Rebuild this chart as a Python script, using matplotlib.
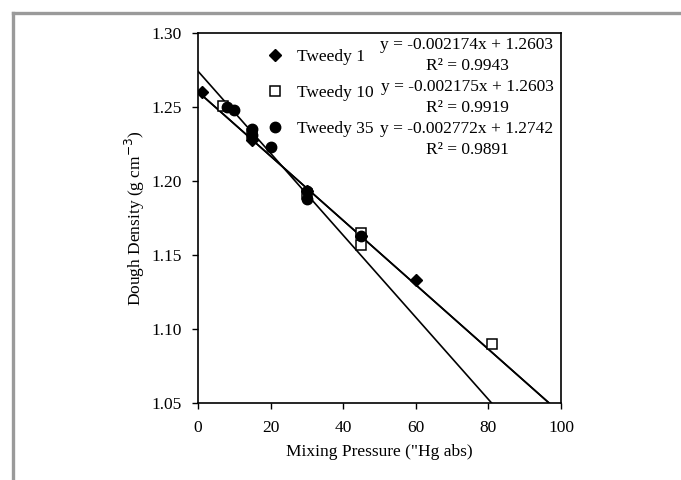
import matplotlib
matplotlib.use("Agg")
import matplotlib.pyplot as plt
from matplotlib.lines import Line2D
import numpy as np

# ---- data ----
t1_x = [1, 15, 30, 45, 60]
t1_y = [1.260, 1.228, 1.193, 1.163, 1.133]

t10_x = [7, 15, 30, 45, 45, 81]
t10_y = [1.251, 1.232, 1.191, 1.165, 1.157, 1.090]

t35_x = [8, 10, 15, 15, 20, 30, 30, 45]
t35_y = [1.250, 1.248, 1.235, 1.231, 1.223, 1.193, 1.188, 1.163]

series_names = ["Tweedy 1", "Tweedy 10", "Tweedy 35"]
slopes = [-0.002174, -0.002175, -0.002772]
intercepts = [1.2603, 1.2603, 1.2742]
r2_values = [0.9943, 0.9919, 0.9891]

x_ticks = [0, 20, 40, 60, 80, 100]
y_ticks = [1.05, 1.10, 1.15, 1.20, 1.25, 1.30]

W, H = 681, 480
FS = 12.5
plt.rcParams['font.family'] = ['Liberation Serif', 'DejaVu Serif']
plt.rcParams['font.size'] = FS

fig = plt.figure(figsize=(W / 100, H / 100), dpi=100)
ax = fig.add_axes([198 / W, 1 - 403 / H, (561 - 198) / W, (403 - 33) / H])

def fy(py):
    return 1 - py / H

def fx(px):
    return px / W

# gray frame (top and left)
fig.add_artist(Line2D([fx(13), 1.0], [fy(13), fy(13)], color='#9a9a9a', lw=2.4,
                      transform=fig.transFigure))
fig.add_artist(Line2D([fx(13), fx(13)], [fy(13), 0.0], color='#9a9a9a', lw=2.4,
                      transform=fig.transFigure))

# trend lines
xl = np.array([0.0, 100.0])
for m, b in zip(slopes, intercepts):
    ax.plot(xl, m * xl + b, color='black', lw=1.2, zorder=2)

# markers
ax.plot(t1_x, t1_y, linestyle='none', marker='D', ms=6, color='black',
        label=series_names[0], zorder=3)
ax.plot(t10_x, t10_y, linestyle='none', marker='s', ms=6.5, mfc='white',
        mec='black', mew=1.1, label=series_names[1], zorder=3)
ax.plot(t35_x, t35_y, linestyle='none', marker='o', ms=7.5, color='black',
        label=series_names[2], zorder=4)

ax.set_xlim(0, 100)
ax.set_ylim(1.05, 1.30)
ax.set_xticks(x_ticks)
ax.set_yticks(y_ticks)
ax.set_yticklabels([f"{v:.2f}" for v in y_ticks])
ax.tick_params(direction='out', length=4, width=1, colors='black')
ax.tick_params(axis='x', pad=8)
ax.tick_params(axis='y', pad=8)
for s in ax.spines.values():
    s.set_linewidth(1.2)

ax.set_xlabel('Mixing Pressure ("Hg abs)', labelpad=6)
ax.set_ylabel('Dough Density (g cm$^{-3}$)', labelpad=3)

leg = ax.legend(loc='upper left', bbox_to_anchor=(fx(267), fy(49)),
                bbox_transform=fig.transFigure, frameon=False,
                handlelength=0.9, handletextpad=0.85, borderpad=0,
                borderaxespad=0, labelspacing=1.15, fontsize=FS)

# trendline equations
eq_y = [45, 87, 129]
for m, b, r2, py in zip(slopes, intercepts, r2_values, eq_y):
    fig.text(fx(467), fy(py), f"y = {m:.6f}x + {b:.4f}", ha='center', va='center',
             fontsize=FS)
    fig.text(fx(467), fy(py + 21), f"R² = {r2:.4f}", ha='center', va='center',
             fontsize=FS)

fig.savefig('out.png', dpi=100)
